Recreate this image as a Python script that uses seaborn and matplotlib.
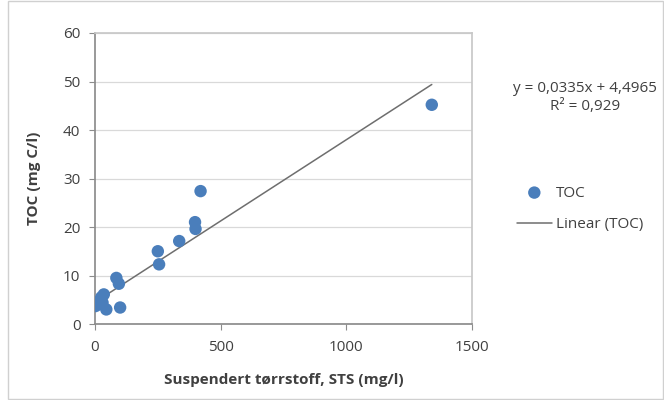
import numpy as np
import pandas as pd
import seaborn as sns
import matplotlib.pyplot as plt

# data
sts = [2, 10, 20, 25, 30, 35, 45, 85, 95, 100, 250, 255, 335, 398, 400, 420, 1340]
toc = [3.7, 4.0, 4.8, 5.5, 4.4, 6.1, 3.0, 9.5, 8.3, 3.4, 15.0, 12.3, 17.1, 21.0, 19.6, 27.4, 45.2]
slope = 0.0335
intercept = 4.4965
r2 = 0.929

df = pd.DataFrame({"STS": sts, "TOC": toc})
fit_x = np.array([0, max(sts)])
fit = pd.DataFrame({"STS": fit_x, "TOC": slope * fit_x + intercept})

sns.set_theme(style="white")
plt.rcParams['font.family'] = ['Open Sans', 'DejaVu Sans']
txt = "#404040"

fig = plt.figure(figsize=(6.64, 4.0), dpi=100)
ax = fig.add_axes([95 / 664, 1 - 324 / 400, (472 - 95) / 664, (324 - 33) / 400])

sns.lineplot(data=fit, x="STS", y="TOC", ax=ax, color="#6e6e6e", linewidth=1.1,
             label="Linear (TOC)", zorder=2)
sns.scatterplot(data=df, x="STS", y="TOC", ax=ax, color="#4a7ebb", s=80,
                edgecolor="none", label="TOC", zorder=3)

ax.set_xlim(0, 1500)
ax.set_ylim(0, 60)
ax.set_xticks([0, 500, 1000, 1500])
ax.set_yticks(range(0, 61, 10))
ax.yaxis.grid(True, color="#d9d9d9", linewidth=0.9)
ax.xaxis.grid(False)
for side in ["top", "right"]:
    ax.spines[side].set_color("#c8c8c8")
for side in ["left", "bottom"]:
    ax.spines[side].set_color("#8c8c8c")
ax.tick_params(axis="both", labelsize=11, labelcolor=txt, color="#8c8c8c",
               direction="out", length=4.5, width=0.8, bottom=True, left=True)
ax.tick_params(axis="x", pad=7)
ax.tick_params(axis="y", pad=6)
ax.set_xlabel("Suspendert tørrstoff, STS (mg/l)", fontsize=11, fontweight="bold",
              color=txt, labelpad=13)
ax.set_ylabel("TOC (mg C/l)", fontsize=11, fontweight="bold", color=txt, labelpad=16)

handles, labels = ax.get_legend_handles_labels()
order = [labels.index("TOC"), labels.index("Linear (TOC)")]
ax.legend([handles[i] for i in order], [labels[i] for i in order],
          loc="center left", bbox_to_anchor=(503 / 664, 1 - 209 / 400),
          bbox_transform=fig.transFigure, frameon=False, fontsize=11,
          labelspacing=1.1, handlelength=2.3, handletextpad=0.25, labelcolor=txt)

fig.text(585 / 664, 1 - 88 / 400, f"y = {slope:.4f}x + {intercept:.4f}".replace(".", ","),
         ha="center", va="center", fontsize=11, color=txt)
fig.text(585 / 664, 1 - 106 / 400, f"R² = {r2:.3f}".replace(".", ","),
         ha="center", va="center", fontsize=11, color=txt)

fig.patches.append(plt.Rectangle((8 / 664, 0.003), 1 - 9 / 664, 0.994, transform=fig.transFigure,
                                 fill=False, edgecolor="#d0d0d0", linewidth=1))

fig.savefig("out.png", dpi=100)
